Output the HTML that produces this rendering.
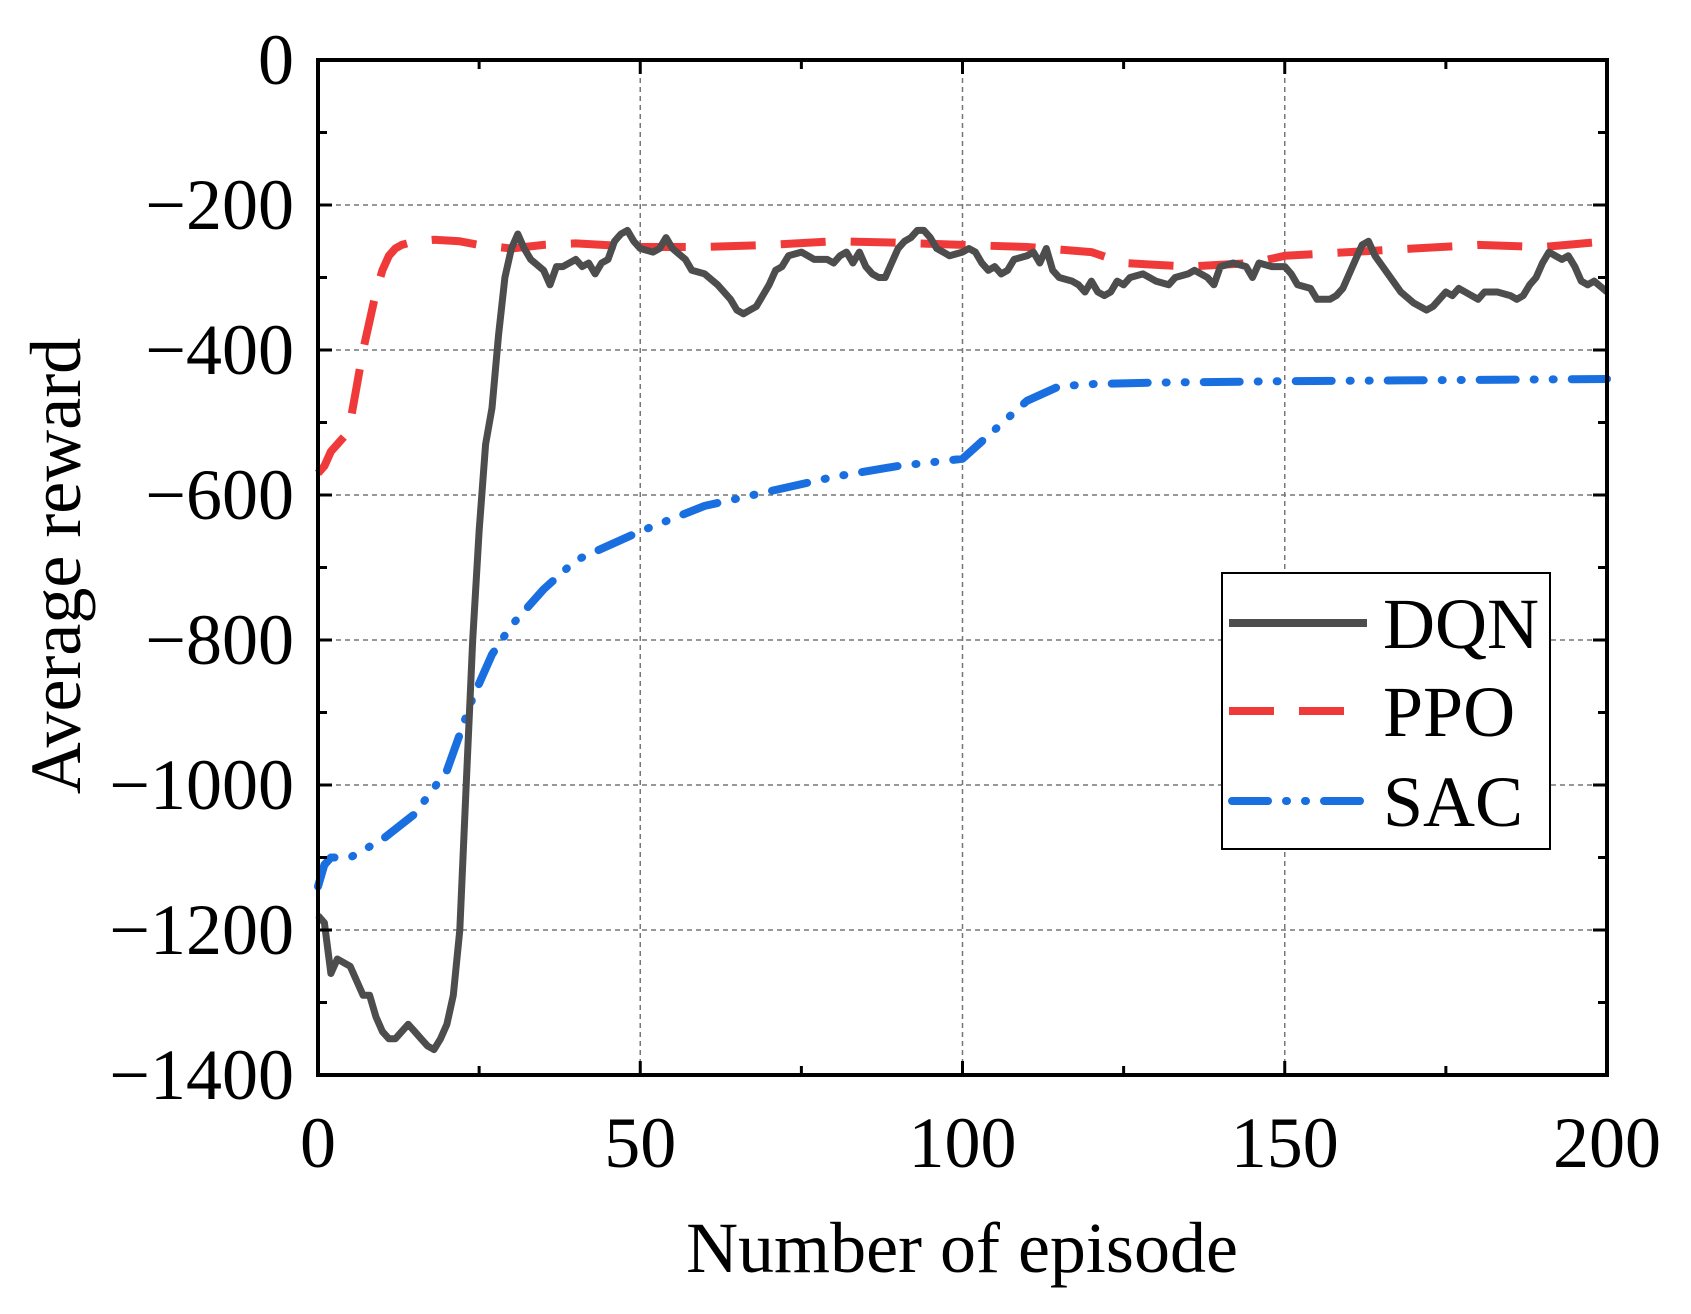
<!DOCTYPE html>
<html><head><meta charset="utf-8"><style>
html,body{margin:0;padding:0;background:#fff;}
svg{display:block;font-family:"Liberation Serif","DejaVu Serif",serif;}
</style></head><body>
<svg id="chart" width="1691" height="1314" viewBox="0 0 1691 1314" xmlns="http://www.w3.org/2000/svg">
<g id="grid"></g>
<g id="series"></g>
<g id="axes"></g>
<text x="962" y="1272" font-size="72" text-anchor="middle">Number of episode</text>
<text transform="translate(80,566) rotate(-90)" font-size="72" text-anchor="middle">Average reward</text>
<g>
<rect x="1222" y="573" width="328" height="276" fill="#fff" stroke="#000" stroke-width="2"/>
<line x1="1229" y1="623" x2="1367" y2="623" stroke="#4d4d4d" stroke-width="8"/>
<text x="1383" y="648" font-size="72">DQN</text>
<line x1="1229" y1="711" x2="1367" y2="711" stroke="#f03a3a" stroke-width="8" stroke-dasharray="45,25"/>
<text x="1383" y="736" font-size="72">PPO</text>
<line x1="1232" y1="801" x2="1367" y2="801" stroke="#1a6fe0" stroke-width="8" stroke-linecap="round" stroke-dasharray="36,18,1,18,1,18"/>
<text x="1383" y="826" font-size="72">SAC</text>
</g>
</svg>
<script>
const xTicks=[0,50,100,150,200];
const yTicks=[0,-200,-400,-600,-800,-1000,-1200,-1400];
const yTickLabels=["0","\u2212200","\u2212400","\u2212600","\u2212800","\u22121000","\u22121200","\u22121400"];
const dqnX=[0,1,2,3,5,7,8,9,10,11,12,13,14,15,16,17,18,19,20,21,22,23,24,25,26,27,28,29,30,31,32,33,35,36,37,38,40,41,42,43,44,45,46,47,48,49,50,52,53,54,55,57,58,60,62,64,65,66,67,68,69,70,71,72,73,75,77,79,80,81,82,83,84,85,86,87,88,89,90,91,92,93,94,95,96,97,98,100,101,102,103,104,105,106,107,108,110,111,112,113,114,115,117,118,119,120,121,122,123,124,125,126,128,130,132,133,135,136,137,138,139,140,142,144,145,146,148,150,151,152,154,155,157,158,159,160,161,162,163,164,166,168,170,172,173,175,176,177,178,180,181,183,185,186,187,188,189,190,191,192,193,194,195,196,197,198,200];
const dqnY=[-1180,-1190,-1260,-1240,-1250,-1290,-1290,-1320,-1340,-1350,-1350,-1340,-1330,-1340,-1350,-1360,-1365,-1350,-1330,-1290,-1200,-1000,-800,-650,-530,-480,-380,-300,-260,-240,-260,-275,-290,-310,-285,-285,-275,-285,-280,-295,-280,-275,-250,-240,-235,-250,-260,-265,-260,-245,-260,-275,-290,-295,-310,-330,-345,-350,-345,-340,-325,-310,-290,-285,-270,-265,-275,-275,-280,-270,-265,-280,-265,-285,-295,-300,-300,-280,-260,-250,-245,-235,-235,-245,-260,-265,-270,-265,-260,-265,-280,-290,-285,-295,-290,-275,-270,-265,-280,-260,-290,-300,-305,-310,-320,-305,-320,-325,-320,-305,-310,-300,-295,-305,-310,-300,-295,-290,-295,-300,-310,-285,-280,-285,-300,-280,-285,-285,-295,-310,-315,-330,-330,-325,-315,-295,-275,-255,-250,-270,-295,-320,-335,-345,-340,-320,-325,-315,-320,-330,-320,-320,-325,-330,-325,-310,-300,-280,-265,-270,-275,-270,-285,-305,-310,-305,-320];
const ppoX=[0,1,2,3,4,5,6,7,8,9,10,11,12,13,15,18,22,25,30,35,40,50,60,70,80,90,100,110,120,125,135,145,150,160,170,180,190,200];
const ppoY=[-570,-560,-540,-530,-520,-500,-450,-400,-360,-320,-290,-270,-260,-255,-250,-248,-250,-255,-260,-255,-253,-258,-258,-255,-250,-252,-255,-258,-265,-280,-285,-280,-270,-265,-260,-255,-258,-250];
const sacX=[0,1,2,5,10,15,20,22,24,27,30,35,40,50,60,70,80,90,100,105,110,115,120,130,150,200];
const sacY=[-1140,-1110,-1100,-1100,-1075,-1040,-980,-930,-880,-820,-780,-730,-690,-650,-615,-595,-575,-560,-550,-510,-470,-450,-447,-445,-443,-440];
const L=318,R=1607,T=60,B=1075;
const sx=e=>L+(e-0)/(200-0)*(R-L);
const sy=v=>T+(0-v)/(0-(-1400))*(B-T);
const NS="http://www.w3.org/2000/svg";
function mk(tag,attrs,parent){const el=document.createElementNS(NS,tag);for(const k in attrs)el.setAttribute(k,attrs[k]);parent.appendChild(el);return el;}
const grid=document.getElementById('grid'),axes=document.getElementById('axes'),series=document.getElementById('series');
xTicks.forEach(t=>{if(t>0&&t<200){const g=mk('line',{x1:sx(t),x2:sx(t),y1:T,y2:B,stroke:'#777','stroke-width':1.5,'stroke-dasharray':'5,4'},grid);

}
const lb=mk('text',{x:sx(t),y:B+92,'font-size':72,'text-anchor':'middle'},axes);lb.textContent=t;

});
yTicks.forEach((t,i)=>{if(t<0&&t>-1400){const g=mk('line',{x1:L,x2:R,y1:sy(t),y2:sy(t),stroke:'#777','stroke-width':1.5,'stroke-dasharray':'5,4'},grid);

}
const lb=mk('text',{x:294,y:sy(t)+24,'font-size':72,'text-anchor':'end'},axes);lb.textContent=yTickLabels[i];

});
for(let e=0;e<=200;e+=25){[B,T].forEach(y=>{const len=(e%50===0)?14:9;const tk=mk('line',{x1:sx(e),x2:sx(e),y1:y,y2:(y===B?B-len:T+len),stroke:'#000','stroke-width':3},axes);

});}
for(let v=0;v>=-1400;v-=100){const len=(v%200===0)?14:9;[[L,1],[R,-1]].forEach(([x,d])=>{const tk=mk('line',{x1:x,x2:x+d*len,y1:sy(v),y2:sy(v),stroke:'#000','stroke-width':3},axes);

});}
const frame=mk('rect',{x:L,y:T,width:R-L,height:B-T,fill:'none',stroke:'#000','stroke-width':4},axes);


function path(xs,ys){return xs.map((x,i)=>(i?'L':'M')+sx(x).toFixed(1)+','+sy(ys[i]).toFixed(1)).join(' ');}
const sac=mk('path',{d:path(sacX,sacY),fill:'none',stroke:'#1a6fe0','stroke-width':8,'stroke-linecap':'round','stroke-dasharray':'36,18,1,18,1,18','stroke-linejoin':'round'},series);


const ppo=mk('path',{d:path(ppoX,ppoY),fill:'none',stroke:'#f03a3a','stroke-width':8,'stroke-dasharray':'45,25','stroke-linejoin':'round'},series);


const dqn=mk('path',{d:path(dqnX,dqnY),fill:'none',stroke:'#4d4d4d','stroke-width':7,'stroke-linejoin':'round'},series);


</script>
</body></html>
